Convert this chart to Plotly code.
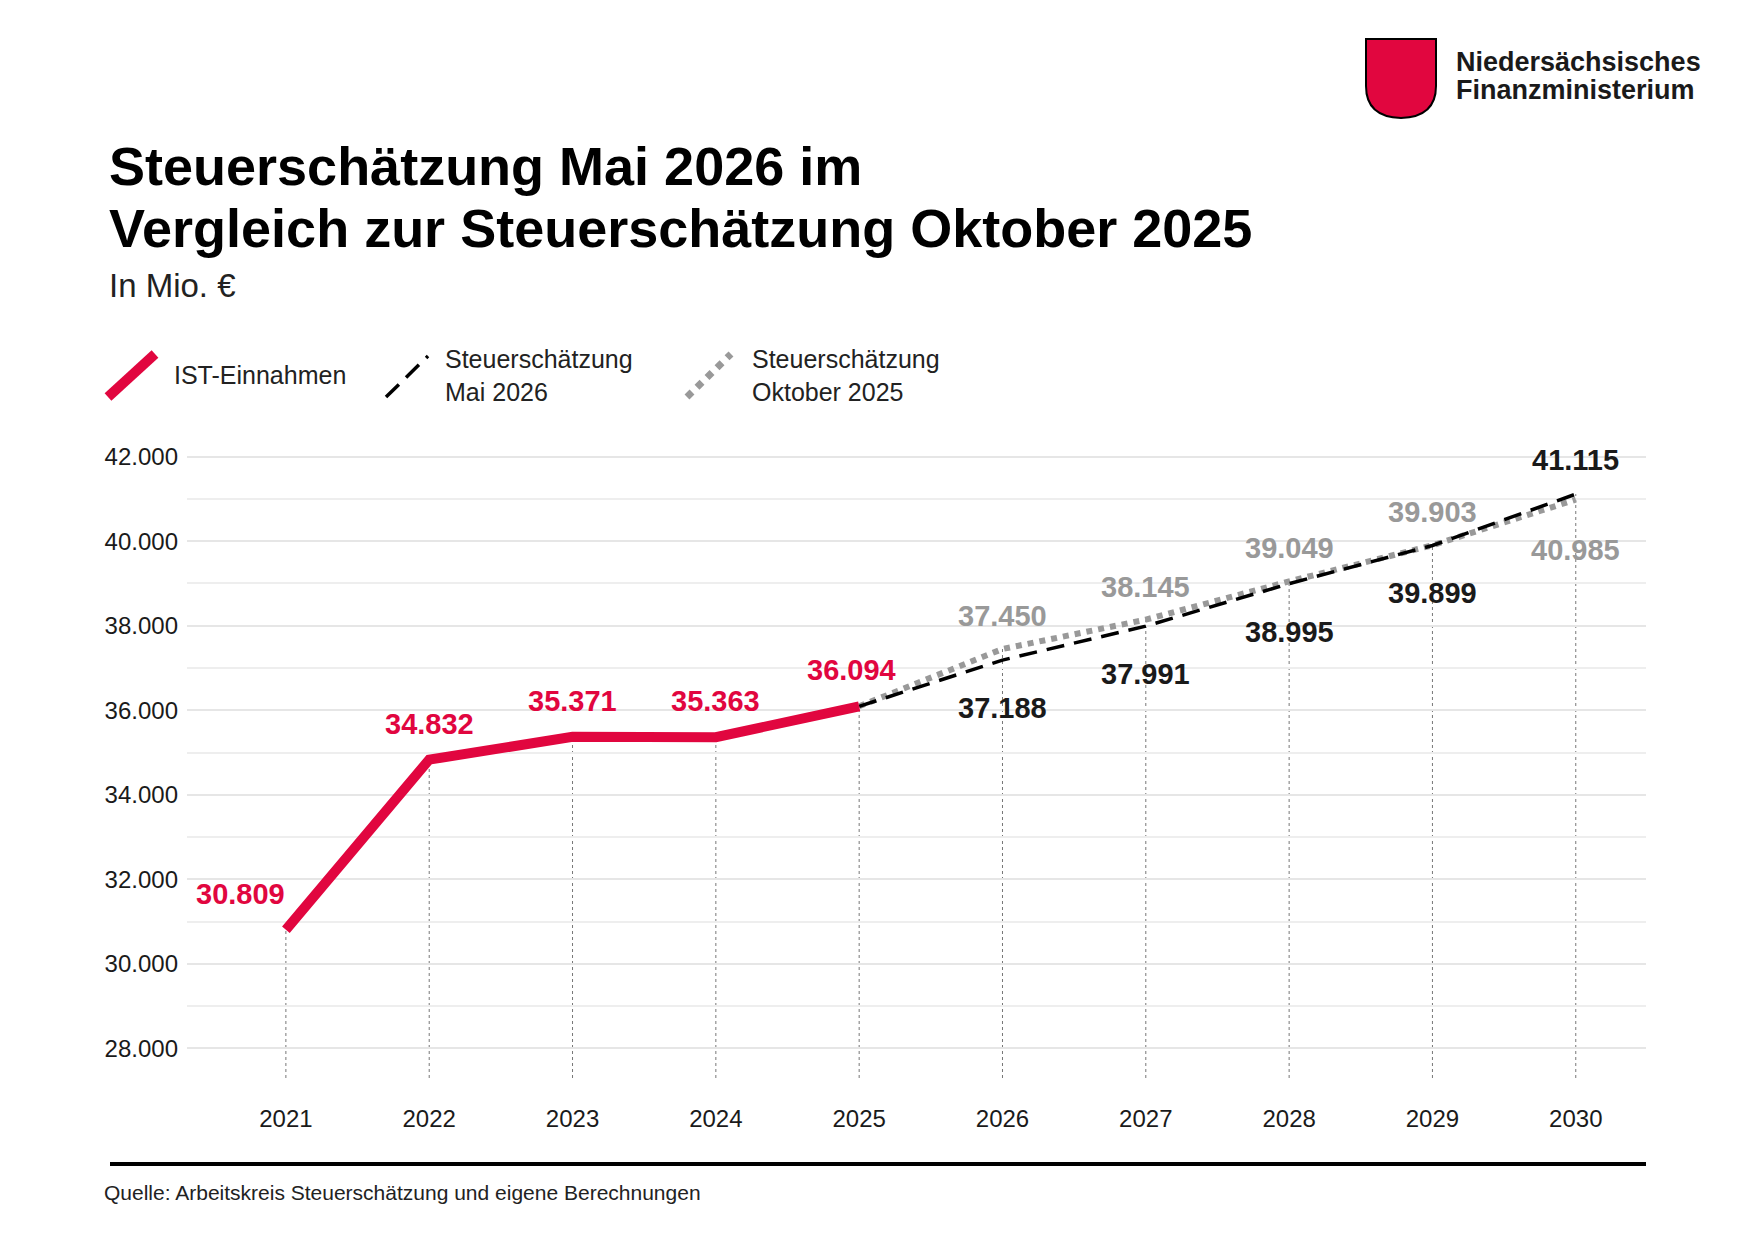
import plotly.graph_objects as go

years_ist = [2021, 2022, 2023, 2024, 2025]
ist = [30809, 34832, 35371, 35363, 36094]
years_fc = [2025, 2026, 2027, 2028, 2029, 2030]
mai = [36094, 37188, 37991, 38995, 39899, 41115]
okt = [36094, 37450, 38145, 39049, 39903, 40985]
ytick_vals = [28000, 30000, 32000, 34000, 36000, 38000, 40000, 42000]
ytick_text = ["28.000", "30.000", "32.000", "34.000", "36.000", "38.000", "40.000", "42.000"]

RED = "#E1063F"
GRAY = "#999999"
W, H = 1754, 1240
ML, MR, MT, MB = 179, 116, 436, 170
FONT = "Liberation Sans, Arial, sans-serif"

def fmt(v):
    return f"{v:,}".replace(",", ".")

def px(x):
    return (x - ML) / (W - ML - MR)

def py(y):
    return 1 - (y - MT) / (H - MT - MB)

fig = go.Figure()

all_years = years_ist + years_fc[1:]
all_vals = ist + mai[1:]
for yr, v in zip(all_years, all_vals):
    top = max(v, okt[years_fc.index(yr)]) if yr in years_fc else v
    fig.add_shape(type="line", x0=yr, x1=yr, y0=27300, y1=top, xref="x", yref="y",
                  line=dict(color="#777777", width=1, dash="dot"), layer="below")

fig.add_trace(go.Scatter(x=years_fc, y=okt, mode="lines",
                         line=dict(color=GRAY, width=6, dash="dot"), showlegend=False))
fig.add_trace(go.Scatter(x=years_fc, y=mai, mode="lines",
                         line=dict(color="black", width=3.5, dash="18px,10px"), showlegend=False))
fig.add_trace(go.Scatter(x=years_ist, y=ist, mode="lines",
                         line=dict(color=RED, width=10), showlegend=False))

lab = dict(size=29, family=FONT)
for yr, v in zip(years_ist, ist):
    fig.add_annotation(x=yr, y=v, text=f"<b>{fmt(v)}</b>", showarrow=False, yshift=36,
                       xshift=-45 if yr == 2021 else (-8 if yr == 2025 else 0),
                       font=dict(color=RED, **lab))
for yr, v in zip(years_fc[1:], mai[1:]):
    fig.add_annotation(x=yr, y=v, text=f"<b>{fmt(v)}</b>", showarrow=False,
                       yshift=34 if yr == 2030 else -48, font=dict(color="#1a1a1a", **lab))
for yr, v in zip(years_fc[1:], okt[1:]):
    fig.add_annotation(x=yr, y=v, text=f"<b>{fmt(v)}</b>", showarrow=False,
                       yshift=-50 if yr == 2030 else 33, font=dict(color=GRAY, **lab))

shapes = [
    dict(type="line", x0=px(100), x1=px(147), y0=py(389), y1=py(346), xref="paper", yref="paper",
         line=dict(color=RED, width=10)),
    dict(type="line", x0=px(378), x1=px(420), y0=py(389), y1=py(348), xref="paper", yref="paper",
         line=dict(color="black", width=3.5, dash="18px,10px")),
    dict(type="line", x0=px(679), x1=px(723), y0=py(389), y1=py(346), xref="paper", yref="paper",
         line=dict(color=GRAY, width=7, dash="dot")),
    dict(type="line", x0=px(102), x1=px(1638), y0=py(1156), y1=py(1156), xref="paper", yref="paper",
         line=dict(color="black", width=4)),
    dict(type="path", xref="paper", yref="paper",
         path=f"M {px(1358)},{py(31)} L {px(1428)},{py(31)} L {px(1428)},{py(78)} "
              f"Q {px(1428)},{py(109)} {px(1393)},{py(110)} Q {px(1358)},{py(109)} {px(1358)},{py(78)} Z",
         fillcolor=RED, line=dict(color="black", width=2)),
]
for s in shapes:
    fig.add_shape(**s)

def ann(x, y, text, size, color="black", xanchor="left", yanchor="middle"):
    fig.add_annotation(x=px(x), y=py(y), xref="paper", yref="paper", text=text, showarrow=False,
                       xanchor=xanchor, yanchor=yanchor, align="left",
                       font=dict(size=size, color=color, family=FONT))

ann(99, 158, "<b>Steuerschätzung Mai 2026 im</b>", 54)
ann(99, 220, "<b>Vergleich zur Steuerschätzung Oktober 2025</b>", 54)
ann(99, 277, "In Mio. €", 33, color="#222")
ann(164, 367, "IST-Einnahmen", 25, color="#222")
ann(435, 367, "Steuerschätzung<br>Mai 2026", 25, color="#222")
ann(742, 367, "Steuerschätzung<br>Oktober 2025", 25, color="#222")
ann(94, 1184, "Quelle: Arbeitskreis Steuerschätzung und eigene Berechnungen", 21, color="#222")
ann(1446, 54, "<b>Niedersächsisches</b>", 27, color="#1a1a1a")
ann(1446, 82, "<b>Finanzministerium</b>", 27, color="#1a1a1a")

fig.update_layout(
    width=W, height=H, margin=dict(l=ML, r=MR, t=MT, b=MB),
    plot_bgcolor="white", paper_bgcolor="white", font=dict(family=FONT),
    xaxis=dict(range=[2020.31, 2030.49], tickvals=list(range(2021, 2031)), showgrid=False,
               zeroline=False, showline=False, ticks="", ticklabelstandoff=24,
               tickfont=dict(size=24, color="#1a1a1a")),
    yaxis=dict(range=[27300, 42300], tickvals=ytick_vals, ticktext=ytick_text,
               showgrid=True, gridcolor="#e6e6e6", gridwidth=1.5, zeroline=False,
               ticks="", ticklabelstandoff=8, tickfont=dict(size=24, color="#1a1a1a"),
               minor=dict(dtick=1000, tick0=27000, showgrid=True, gridcolor="#eeeeee", gridwidth=1.5)),
)
fig.write_html("out.html")
